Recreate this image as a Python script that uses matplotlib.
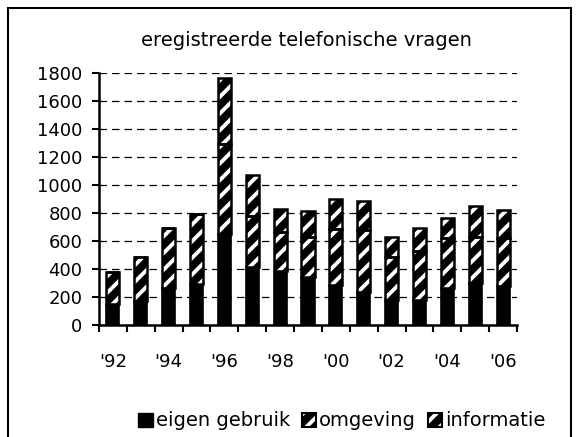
import matplotlib
matplotlib.use("Agg")
import matplotlib.pyplot as plt
from matplotlib.patches import Patch, Rectangle
import numpy as np

years = ["'92", "'93", "'94", "'95", "'96", "'97", "'98", "'99", "'00", "'01", "'02", "'03", "'04", "'05", "'06"]
eigen_gebruik = [150, 174, 262, 293, 650, 412, 385, 342, 286, 238, 179, 179, 262, 298, 279]
omgeving = [231, 309, 428, 500, 640, 368, 282, 286, 399, 441, 309, 350, 357, 333, 340]
informatie = [0, 0, 0, 0, 475, 290, 159, 184, 213, 207, 143, 161, 143, 219, 198]
yticks = [0, 200, 400, 600, 800, 1000, 1200, 1400, 1600, 1800]
title = "eregistreerde telefonische vragen"
legend_labels = ["eigen gebruik", "omgeving", "informatie"]

plt.rcParams['font.family'] = ['DejaVu Sans']
plt.rcParams['hatch.linewidth'] = 2.8

W, H = 579, 437
fig = plt.figure(figsize=(W/100, H/100), dpi=100)
x0, x1, ytop, ybot = 99, 517, 72.7, 325
ax = fig.add_axes([x0/W, 1-ybot/H, (x1-x0)/W, (ybot-ytop)/H])

x = np.arange(len(years))
bw = 0.47
e = np.array(eigen_gebruik); o = np.array(omgeving); inf = np.array(informatie)

ax.bar(x, e, bw, color='black', edgecolor='black', linewidth=1.2, zorder=3)
for bottom, vals in [(e, o), (e+o, inf)]:
    ax.bar(x, vals, bw, bottom=bottom, color='black', edgecolor='white', hatch='//', linewidth=0, zorder=3)
    ax.bar(x, vals, bw, bottom=bottom, fill=False, edgecolor='black', linewidth=1.8, zorder=4)

ax.set_xlim(-0.5, len(years)-0.5)
ax.set_ylim(0, 1800)
ax.set_yticks(yticks)
ax.set_yticklabels([str(v) for v in yticks], fontsize=13)
ax.yaxis.grid(True, color='black', linestyle=(0, (6, 4)), linewidth=0.9)
ax.set_axisbelow(True)

ax.set_xticks(x[::2])
ax.set_xticklabels(years[::2], fontsize=13)
ax.tick_params(axis='x', which='major', length=0, pad=20)
ax.set_xticks(np.arange(-0.5, len(years), 1.0), minor=True)
ax.tick_params(axis='x', which='minor', length=5, width=1.5, direction='out')
ax.tick_params(axis='y', length=5, width=1.5, direction='out', pad=7)

for s in ['top', 'right']:
    ax.spines[s].set_visible(False)
for s in ['left', 'bottom']:
    ax.spines[s].set_linewidth(1.8)

fig.text(306/W, 1-40/H, title, ha='center', va='center', fontsize=14)

h1 = Patch(facecolor='black', edgecolor='black')
h2 = (Patch(facecolor='black', edgecolor='white', hatch='//', linewidth=0), Patch(fill=False, edgecolor='black', linewidth=1.5))
h3 = (Patch(facecolor='black', edgecolor='white', hatch='//', linewidth=0), Patch(fill=False, edgecolor='black', linewidth=1.5))
fig.legend([h1, h2, h3], legend_labels, loc='center', bbox_to_anchor=(342/W, 1-421/H),
           ncol=3, frameon=False, fontsize=14, handlelength=0.75, handleheight=0.75,
           handletextpad=0.15, columnspacing=0.6)

fig.patches.append(Rectangle((8/W, -0.05), (571-8)/W, 1.05-8/H, transform=fig.transFigure,
                             fill=False, edgecolor='black', linewidth=1.5))

fig.savefig('out.png', dpi=100)
